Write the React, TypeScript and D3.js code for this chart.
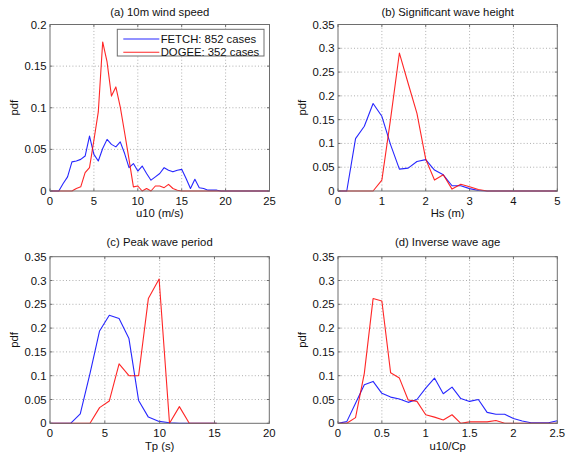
import React from 'react';
import * as d3 from 'd3';

// ---------- Data ----------
// (a) 10 m wind speed
const windX = [0, 0.5, 1, 1.5, 2, 2.5, 3, 3.5, 4, 4.5, 5, 5.5, 6, 6.5, 7, 7.5, 8, 8.5, 9, 9.5, 10, 10.5, 11, 11.5, 12, 12.5, 13, 13.5, 14, 14.5, 15, 15.5, 16, 16.5, 17, 17.5, 18, 18.5, 19, 19.5, 20, 20.5, 21, 21.5, 22, 22.5, 23, 23.5, 24, 24.5, 25];
const windFetch = [0, 0, 0, 0.009, 0.017, 0.035, 0.036, 0.038, 0.042, 0.066, 0.044, 0.036, 0.051, 0.062, 0.056, 0.053, 0.059, 0.045, 0.028, 0.033, 0.024, 0.030, 0.021, 0.013, 0.017, 0.021, 0.028, 0.025, 0.023, 0.025, 0.026, 0.015, 0.003, 0.014, 0.004, 0.003, 0.001, 0.001, 0.001, 0, 0, 0, 0, 0, 0, 0, 0, 0, 0, 0, 0];
const windDogee = [0, 0, 0, 0, 0, 0, 0.003, 0.005, 0.022, 0.028, 0.061, 0.095, 0.179, 0.155, 0.114, 0.125, 0.101, 0.070, 0.038, 0.005, 0.006, 0, 0.003, 0, 0.006, 0.006, 0.004, 0.008, 0.003, 0.001, 0, 0, 0, 0, 0, 0, 0, 0, 0, 0, 0, 0, 0, 0, 0, 0, 0, 0, 0, 0, 0];

// (b) Significant wave height
const hsX = [0, 0.2, 0.4, 0.6, 0.8, 1, 1.2, 1.4, 1.6, 1.8, 2, 2.2, 2.4, 2.6, 2.8, 3, 3.2, 3.4, 3.6, 3.8, 4, 4.2, 4.4, 4.6, 4.8, 5];
const hsFetch = [0, 0, 0.11, 0.136, 0.184, 0.157, 0.097, 0.046, 0.048, 0.062, 0.066, 0.044, 0.034, 0.011, 0.011, 0.005, 0.001, 0, 0, 0, 0, 0, 0, 0, 0, 0];
const hsDogee = [0, 0, 0, 0, 0, 0.023, 0.152, 0.29, 0.226, 0.163, 0.067, 0.023, 0.034, 0.004, 0.014, 0.009, 0.003, 0, 0, 0, 0, 0, 0, 0, 0, 0];

// (c) Peak wave period
const tpX = [0, 0.95, 1.88, 2.76, 3.65, 4.52, 5.41, 6.3, 7.2, 8.08, 8.97, 9.95, 10.9, 11.8, 12.7, 13.6, 14.5, 15.2];
const tpFetch = [0, 0, 0, 0.02, 0.105, 0.194, 0.227, 0.22, 0.178, 0.048, 0.013, 0.004, 0.001, 0, 0, 0, 0, 0];
const tpDogee = [0, 0, 0, 0, 0, 0.033, 0.047, 0.125, 0.1, 0.1, 0.262, 0.303, 0, 0.035, 0, 0, 0, 0];

// (d) Inverse wave age
const iwaX = [0, 0.1, 0.2, 0.3, 0.4, 0.5, 0.6, 0.7, 0.8, 0.9, 1, 1.1, 1.2, 1.3, 1.4, 1.5, 1.6, 1.7, 1.8, 1.9, 2, 2.1, 2.2, 2.3, 2.4, 2.5];
const iwaFetch = [0, 0.0035, 0.042, 0.081, 0.088, 0.063, 0.055, 0.051, 0.044, 0.05, 0.074, 0.095, 0.062, 0.076, 0.052, 0.046, 0.05, 0.023, 0.019, 0.019, 0.01, 0.005, 0.001, 0.001, 0.001, 0.0055];
const iwaDogee = [0, 0, 0.012, 0.105, 0.262, 0.257, 0.106, 0.095, 0.049, 0.046, 0.018, 0.013, 0.007, 0.018, 0, 0.003, 0.003, 0.003, 0.006, 0, 0, 0, 0, 0, 0, 0];

// Ticks
const windTicks = [0, 5, 10, 15, 20, 25];
const hsTicks = [0, 1, 2, 3, 4, 5];
const tpTicks = [0, 5, 10, 15, 20];
const iwaTicks = [0, 0.5, 1, 1.5, 2, 2.5];
const pdfTicksA = [0, 0.05, 0.1, 0.15, 0.2];
const pdfTicks = [0, 0.05, 0.1, 0.15, 0.2, 0.25, 0.3, 0.35];

const seriesNames = ['FETCH: 852 cases', 'DOGEE: 352 cases'];
const seriesColors = ['#0000ff', '#ff0000'];

const FONT = '"Liberation Sans", Arial, Helvetica, sans-serif';
const FS = 11.3;
const AXIS = '#6e6e6e';

type PanelProps = {
  title: string;
  xLabel: string;
  x: number[];
  fetch: number[];
  dogee: number[];
  xTicks: number[];
  yTicks: number[];
  left: number;
  right: number;
  top: number;
  bottom: number;
  titleY: number;
  legend?: boolean;
};

const fmt = (v: number) => d3.format('~g')(+v.toFixed(4));

function Panel(p: PanelProps) {
  const xs = d3.scaleLinear().domain([p.xTicks[0], p.xTicks[p.xTicks.length - 1]]).range([p.left, p.right]);
  const ys = d3.scaleLinear().domain([p.yTicks[0], p.yTicks[p.yTicks.length - 1]]).range([p.bottom, p.top]);
  const line = d3.line<number>().x((_, i) => xs(p.x[i])).y((d) => ys(d));
  const tl = 2.5;
  const cx = (p.left + p.right) / 2;
  const cy = (p.top + p.bottom) / 2;
  return (
    <g>
      {/* grid */}
      {p.xTicks.slice(1, -1).map((t) => (
        <line key={'gx' + t} x1={xs(t)} x2={xs(t)} y1={p.top} y2={p.bottom} stroke="#9a9a9a" strokeWidth={0.8} strokeDasharray="1,2.2" />
      ))}
      {p.yTicks.slice(1, -1).map((t) => (
        <line key={'gy' + t} x1={p.left} x2={p.right} y1={ys(t)} y2={ys(t)} stroke="#9a9a9a" strokeWidth={0.8} strokeDasharray="1,2.2" />
      ))}
      {/* series */}
      <path d={line(p.fetch) || ''} fill="none" stroke={seriesColors[0]} strokeWidth={1.1} strokeOpacity={0.85} strokeLinejoin="round" />
      <path d={line(p.dogee) || ''} fill="none" stroke={seriesColors[1]} strokeWidth={1.1} strokeOpacity={0.85} strokeLinejoin="round" />
      {/* box */}
      <rect x={p.left} y={p.top} width={p.right - p.left} height={p.bottom - p.top} fill="none" stroke={AXIS} strokeWidth={1} />
      {/* ticks */}
      {p.xTicks.map((t) => (
        <g key={'tx' + t}>
          <line x1={xs(t)} x2={xs(t)} y1={p.bottom} y2={p.bottom - tl} stroke={AXIS} />
          <line x1={xs(t)} x2={xs(t)} y1={p.top} y2={p.top + tl} stroke={AXIS} />
          <text x={xs(t)} y={p.bottom + 13.8} textAnchor="middle" fontSize={FS} fontFamily={FONT} fill="#111">{fmt(t)}</text>
        </g>
      ))}
      {p.yTicks.map((t) => (
        <g key={'ty' + t}>
          <line x1={p.left} x2={p.left + tl} y1={ys(t)} y2={ys(t)} stroke={AXIS} />
          <line x1={p.right} x2={p.right - tl} y1={ys(t)} y2={ys(t)} stroke={AXIS} />
          <text x={p.left - 3.5} y={ys(t) + 4} textAnchor="end" fontSize={FS} fontFamily={FONT} fill="#111">{fmt(t)}</text>
        </g>
      ))}
      {/* labels */}
      <text x={cx} y={p.titleY} textAnchor="middle" fontSize={FS} fontFamily={FONT} fill="#111">{p.title}</text>
      <text x={cx} y={p.bottom + 26.4} textAnchor="middle" fontSize={FS} fontFamily={FONT} fill="#111">{p.xLabel}</text>
      <text transform={`translate(${p.left - 32},${cy}) rotate(-90)`} textAnchor="middle" fontSize={FS} fontFamily={FONT} fill="#111">pdf</text>
      {p.legend && (
        <g>
          <rect x={117.3} y={29.3} width={146.7} height={26.7} fill="#fff" stroke={AXIS} strokeWidth={1} />
          {seriesNames.map((n, i) => (
            <g key={n}>
              <line x1={123.3} x2={159.3} y1={39 + i * 13.3} y2={39 + i * 13.3} stroke={seriesColors[i]} strokeWidth={1.1} strokeOpacity={0.85} />
              <text x={160.7} y={43 + i * 13.3} fontSize={FS} fontFamily={FONT} fill="#111">{n}</text>
            </g>
          ))}
        </g>
      )}
    </g>
  );
}

export default function App() {
  return (
    <svg width={566} height={455} style={{ position: 'absolute', left: 0, top: 0, background: '#fff' }}>
      <rect width={566} height={455} fill="#fff" />
      <Panel title="(a) 10m wind speed" xLabel="u10 (m/s)" x={windX} fetch={windFetch} dogee={windDogee}
        xTicks={windTicks} yTicks={pdfTicksA} left={50} right={269.5} top={24.5} bottom={191} titleY={15.8} legend />
      <Panel title="(b) Significant wave height" xLabel="Hs (m)" x={hsX} fetch={hsFetch} dogee={hsDogee}
        xTicks={hsTicks} yTicks={pdfTicks} left={338} right={557.3} top={24.5} bottom={191} titleY={15.8} />
      <Panel title="(c) Peak wave period" xLabel="Tp (s)" x={tpX} fetch={tpFetch} dogee={tpDogee}
        xTicks={tpTicks} yTicks={pdfTicks} left={50} right={269.3} top={256.7} bottom={423.3} titleY={246.3} />
      <Panel title="(d) Inverse wave age" xLabel="u10/Cp" x={iwaX} fetch={iwaFetch} dogee={iwaDogee}
        xTicks={iwaTicks} yTicks={pdfTicks} left={338} right={557.3} top={256.7} bottom={423.3} titleY={246.3} />
    </svg>
  );
}
